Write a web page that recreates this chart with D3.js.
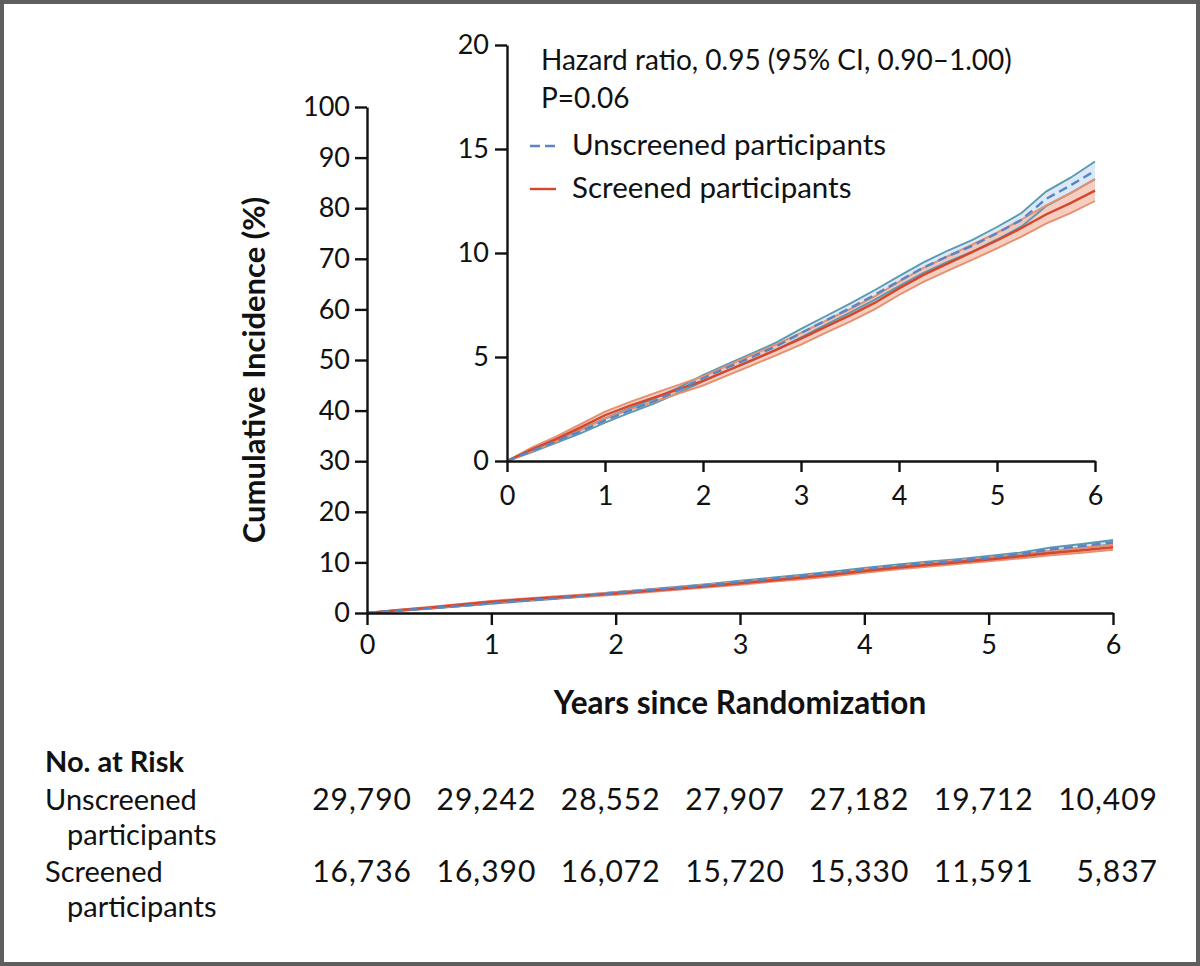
<!DOCTYPE html>
<html>
<head>
<meta charset="utf-8">
<script src="https://cdn.jsdelivr.net/npm/d3@7"></script>
<style>
  html, body { margin: 0; padding: 0; background: #fff; }
  svg { display: block; font-family: Lato, "Open Sans", sans-serif; }
  .axis path, .axis line { stroke: #111; stroke-width: 2.4; }
  .axis text { fill: #111; }
</style>
</head>
<body>
<div id="chart"></div>
<script>
// Cumulative incidence (years since randomization)
const years = [0, 0.25, 0.5, 0.75, 1, 1.25, 1.5, 1.75, 2, 2.25, 2.5, 2.75, 3,
               3.25, 3.5, 3.75, 4, 4.25, 4.5, 4.75, 5, 5.25, 5.5, 5.75, 6];

const unscreenedEst = [0, 0.48, 0.95, 1.42, 1.95, 2.42, 2.88, 3.40, 3.98, 4.50, 5.00, 5.52, 6.15,
                       6.75, 7.35, 7.98, 8.65, 9.30, 9.85, 10.35, 10.95, 11.60, 12.60, 13.25, 13.95];
const unscreenedLo  = [0, 0.42, 0.87, 1.33, 1.85, 2.31, 2.76, 3.27, 3.83, 4.34, 4.83, 5.34, 5.95,
                       6.54, 7.13, 7.75, 8.41, 9.05, 9.58, 10.07, 10.65, 11.28, 12.25, 12.88, 13.55];
const unscreenedHi  = [0, 0.54, 1.03, 1.51, 2.05, 2.53, 3.00, 3.53, 4.13, 4.66, 5.17, 5.70, 6.35,
                       6.96, 7.57, 8.21, 8.89, 9.55, 10.12, 10.63, 11.25, 11.92, 12.95, 13.62, 14.40];

const screenedEst = [0, 0.55, 1.05, 1.62, 2.20, 2.65, 3.05, 3.45, 3.85, 4.35, 4.85, 5.35, 5.88,
                     6.45, 7.00, 7.60, 8.30, 8.95, 9.50, 10.05, 10.60, 11.20, 11.85, 12.40, 13.00];
const screenedLo  = [0, 0.46, 0.93, 1.47, 2.03, 2.47, 2.85, 3.24, 3.63, 4.12, 4.60, 5.09, 5.60,
                     6.16, 6.70, 7.29, 7.98, 8.61, 9.15, 9.68, 10.22, 10.79, 11.41, 11.92, 12.50];
const screenedHi  = [0, 0.64, 1.17, 1.77, 2.37, 2.83, 3.25, 3.66, 4.07, 4.58, 5.10, 5.61, 6.16,
                     6.74, 7.30, 7.91, 8.62, 9.29, 9.85, 10.42, 10.98, 11.61, 12.29, 12.88, 13.55];

const xTicks = [0, 1, 2, 3, 4, 5, 6];
const mainYTicks = [0, 10, 20, 30, 40, 50, 60, 70, 80, 90, 100];
const insetYTicks = [0, 5, 10, 15, 20];

const legendLabels = ['Unscreened participants', 'Screened participants'];
const statsLines = ['Hazard ratio, 0.95 (95% CI, 0.90\u20131.00)', 'P=0.06'];

const riskTitle = 'No. at Risk';
const riskGroups = [['Unscreened', 'participants'], ['Screened', 'participants']];
const unscreenedAtRisk = ['29,790', '29,242', '28,552', '27,907', '27,182', '19,712', '10,409'];
const screenedAtRisk   = ['16,736', '16,390', '16,072', '15,720', '15,330', '11,591', '5,837'];

const W = 1200, H = 966;
const FONT = 'Lato, "Open Sans", sans-serif';
const colors = {
    blue: '#5a84c4', blueEdge: '#5a9bb2', blueFill: '#cfe1f3',
    red: '#d6462c', redEdge: '#e6906f', redFill: '#f3bcac'
};

const svg = d3.select('#chart').append('svg')
    .attr('width', W).attr('height', H);

svg.append('rect')
    .attr('x', 2).attr('y', 2).attr('width', W - 4).attr('height', H - 4)
    .attr('fill', '#fff').attr('stroke', '#5e5e5e').attr('stroke-width', 4);

const series = [
    { est: unscreenedEst, lo: unscreenedLo, hi: unscreenedHi, line: colors.blue, edge: colors.blueEdge, fill: colors.blueFill, dash: true },
    { est: screenedEst, lo: screenedLo, hi: screenedHi, line: colors.red, edge: colors.redEdge, fill: colors.redFill, dash: false }
];

// draws bands, band edges and estimate lines into a group using given scales
function drawCurves(g, x, y, lw) {
    const area = d3.area().x((d, i) => x(years[i])).y0(d => y(d[0])).y1(d => y(d[1]));
    const line = d3.line().x((d, i) => x(years[i])).y(d => y(d));

    series.forEach(s => {
        const band = s.lo.map((v, i) => [v, s.hi[i]]);
        g.append('path').datum(band)
            .attr('d', area).attr('fill', s.fill).attr('fill-opacity', 0.75);
    });
    series.forEach(s => {
        [s.lo, s.hi].forEach(b => {
            g.append('path').datum(b)
                .attr('d', line).attr('fill', 'none')
                .attr('stroke', s.edge).attr('stroke-width', lw * 0.8);
        });
    });
    series.slice().reverse().forEach(s => {
        g.append('path').datum(s.est)
            .attr('d', line).attr('fill', 'none')
            .attr('stroke', s.line).attr('stroke-width', lw)
            .attr('stroke-dasharray', s.dash ? '9,5' : null);
    });
}

function styleAxis(g) {
    g.attr('font-family', FONT).attr('font-size', 27);
}

// ---- main plot
const x = d3.scaleLinear().domain([0, 6]).range([367, 1113]);
const y = d3.scaleLinear().domain([0, 100]).range([613, 107]);

drawCurves(svg.append('g'), x, y, 2.6);

svg.append('g').attr('class', 'axis')
    .attr('transform', `translate(0,${y(0)})`)
    .call(d3.axisBottom(x).tickValues(xTicks).tickFormat(d3.format('d'))
        .tickSize(12).tickSizeOuter(0).tickPadding(10))
    .call(styleAxis);

svg.append('g').attr('class', 'axis')
    .attr('transform', `translate(${x(0)},0)`)
    .call(d3.axisLeft(y).tickValues(mainYTicks).tickFormat(d3.format('d'))
        .tickSize(12).tickSizeOuter(0).tickPadding(5))
    .call(styleAxis);

svg.append('text')
    .attr('x', (x(0) + x(6)) / 2).attr('y', 714)
    .attr('text-anchor', 'middle').attr('font-size', 31.5).attr('font-weight', 700)
    .attr('fill', '#111')
    .text('Years since Randomization');

svg.append('text')
    .attr('transform', `translate(265,${(y(0) + y(100)) / 2 + 10}) rotate(-90)`)
    .attr('text-anchor', 'middle').attr('font-size', 31).attr('font-weight', 700)
    .attr('fill', '#111')
    .text('Cumulative Incidence (%)');

// ---- inset
const xi = d3.scaleLinear().domain([0, 6]).range([507, 1095]);
const yi = d3.scaleLinear().domain([0, 20]).range([461, 45]);

svg.append('rect')
    .attr('x', xi(0)).attr('y', yi(20)).attr('width', xi(6) - xi(0)).attr('height', yi(0) - yi(20))
    .attr('fill', '#fff');

drawCurves(svg.append('g'), xi, yi, 2.4);

svg.append('g').attr('class', 'axis')
    .attr('transform', `translate(0,${yi(0)})`)
    .call(d3.axisBottom(xi).tickValues(xTicks).tickFormat(d3.format('d'))
        .tickSize(11).tickSizeOuter(0).tickPadding(14))
    .call(styleAxis);

svg.append('g').attr('class', 'axis')
    .attr('transform', `translate(${xi(0)},0)`)
    .call(d3.axisLeft(yi).tickValues(insetYTicks).tickFormat(d3.format('d'))
        .tickSize(12).tickSizeOuter(0).tickPadding(6))
    .call(styleAxis);

svg.selectAll('.stat').data(statsLines).join('text')
    .attr('class', 'stat')
    .attr('x', 541).attr('y', (d, i) => 70 + i * 38)
    .attr('font-size', 28).attr('fill', '#111')
    .text(d => d);

const legend = svg.selectAll('.legend').data(series).join('g')
    .attr('class', 'legend')
    .attr('transform', (d, i) => `translate(530,${146 + i * 43})`);
legend.append('line')
    .attr('x1', 0).attr('x2', 26)
    .attr('stroke', d => d.line).attr('stroke-width', 2.4)
    .attr('stroke-dasharray', d => d.dash ? '10,5' : null);
legend.append('text')
    .attr('x', 42).attr('y', 9)
    .attr('font-size', 29.5).attr('fill', '#111')
    .text((d, i) => legendLabels[i]);

// ---- number at risk
svg.append('text')
    .attr('x', 45).attr('y', 772)
    .attr('font-size', 29).attr('font-weight', 700).attr('fill', '#111')
    .text(riskTitle);

const riskRows = [unscreenedAtRisk, screenedAtRisk];
riskRows.forEach((row, r) => {
    const base = 810 + r * 72;
    svg.append('text').attr('x', 45).attr('y', base)
        .attr('font-size', 29).attr('fill', '#111').text(riskGroups[r][0]);
    svg.append('text').attr('x', 67).attr('y', base + 35)
        .attr('font-size', 29).attr('fill', '#111').text(riskGroups[r][1]);
    svg.selectAll(null).data(row).join('text')
        .attr('x', (d, i) => x(xTicks[i]) + 45).attr('y', base)
        .attr('text-anchor', 'end').attr('font-size', 30).attr('fill', '#111')
        .attr('letter-spacing', 1)
        .text(d => d);
});
</script>
</body>
</html>
